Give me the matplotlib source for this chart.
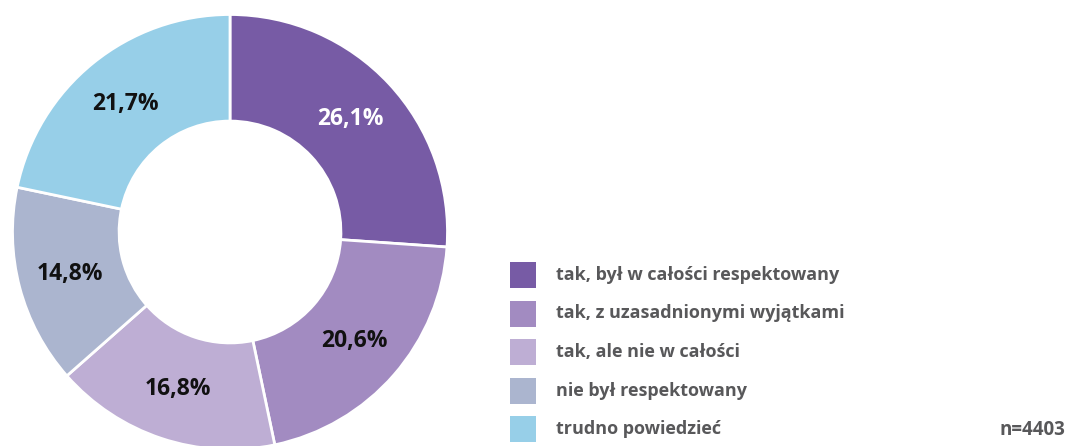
import matplotlib
matplotlib.use("Agg")
import matplotlib.pyplot as plt
from matplotlib.patches import Rectangle

categories = ["tak, był w całości respektowany", "tak, z uzasadnionymi wyjątkami",
              "tak, ale nie w całości", "nie był respektowany", "trudno powiedzieć"]
values = [26.1, 20.6, 16.8, 14.8, 21.7]
labels = ["26,1%", "20,6%", "16,8%", "14,8%", "21,7%"]
colors = ["#775ba5", "#a28bc1", "#beaed4", "#abb5cf", "#97cfe8"]
label_colors = ["white", "#111111", "#111111", "#111111", "#111111"]
note = "n=4403"

W, H = 1068, 446
fig = plt.figure(figsize=(W / 100, H / 100), dpi=100)
ax = fig.add_axes([0, 0, 1, 1])

cx, cy, R = 230, 446 - 232, 217.5
wedges, texts = ax.pie(values, startangle=90, counterclock=False, colors=colors,
                       center=(cx, cy), radius=R, labels=labels, labeldistance=0.76,
                       wedgeprops=dict(width=R * 0.49, edgecolor="white", linewidth=2),
                       textprops=dict(fontsize=16.5, fontweight="bold", family="Open Sans"))
for t, c in zip(texts, label_colors):
    t.set_color(c)
    t.set_ha("center")
    t.set_va("center")

ax.set_xlim(0, W)
ax.set_ylim(0, H)
ax.set_aspect("equal")
ax.axis("off")

lx, ly0, step, sq = 510, 262, 38.5, 26
for i, (cat, col) in enumerate(zip(categories, colors)):
    top = ly0 + i * step
    ax.add_patch(Rectangle((lx, H - top - sq), sq, sq, facecolor=col, edgecolor="none"))
    ax.text(556, H - top - sq / 2, cat, fontsize=13, fontweight="bold", family="Open Sans",
            color="#58585a", ha="left", va="center")

ax.text(1065, H - 430, note, fontsize=13.5, fontweight="bold", family="Open Sans",
        color="#58585a", ha="right", va="center")

fig.savefig("out.png", dpi=100)
